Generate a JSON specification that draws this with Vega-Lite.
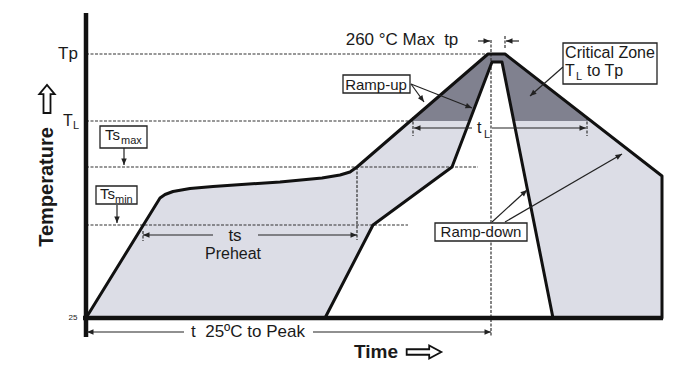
{
  "$schema": "https://vega.github.io/schema/vega-lite/v6.json",
  "width": 695,
  "height": 371,
  "autosize": "none",
  "padding": 0,
  "background": "white",
  "config": {"view": {"stroke": null}, "text": {"font": "Liberation Sans", "color": "#1a1a1a"}},
  "datasets": {
    "profile": [
      {"curve": "outer", "i": 0, "t": 0, "T": 0},
      {"curve": "outer", "i": 1, "t": 74, "T": 120},
      {"curve": "outer", "i": 2, "t": 79, "T": 123.5},
      {"curve": "outer", "i": 3, "t": 87, "T": 126.5},
      {"curve": "outer", "i": 4, "t": 104, "T": 129.5},
      {"curve": "outer", "i": 5, "t": 127, "T": 131.5},
      {"curve": "outer", "i": 6, "t": 194, "T": 136},
      {"curve": "outer", "i": 7, "t": 236, "T": 140},
      {"curve": "outer", "i": 8, "t": 254, "T": 143},
      {"curve": "outer", "i": 9, "t": 264, "T": 146},
      {"curve": "outer", "i": 10, "t": 271, "T": 151},
      {"curve": "outer", "i": 11, "t": 402, "T": 264},
      {"curve": "outer", "i": 12, "t": 419, "T": 264},
      {"curve": "outer", "i": 13, "t": 576, "T": 142},
      {"curve": "outer", "i": 14, "t": 576, "T": 0},
      {"curve": "inner", "i": 0, "t": 239, "T": 0},
      {"curve": "inner", "i": 1, "t": 287, "T": 93},
      {"curve": "inner", "i": 2, "t": 366, "T": 151},
      {"curve": "inner", "i": 3, "t": 406, "T": 256},
      {"curve": "inner", "i": 4, "t": 416, "T": 256},
      {"curve": "inner", "i": 5, "t": 467, "T": 0}
    ],
    "critical": [
      {"t": 324.3, "T": 197},
      {"t": 402, "T": 264},
      {"t": 419, "T": 264},
      {"t": 505.2, "T": 197}
    ],
    "guides": [
      {"t": 0, "T": 264, "t2": 402, "T2": 264},
      {"t": 0, "T": 197, "t2": 327, "T2": 197},
      {"t": 0, "T": 151, "t2": 392, "T2": 151},
      {"t": 0, "T": 93, "t2": 322, "T2": 93},
      {"t": 405, "T": 278, "t2": 405, "T2": -19},
      {"t": 271, "T": 151, "t2": 271, "T2": 78},
      {"t": 57, "T": 87, "t2": 57, "T2": 77},
      {"t": 419, "T": 282, "t2": 419, "T2": 270},
      {"t": 327, "T": 201, "t2": 327, "T2": 182},
      {"t": 501, "T": 201, "t2": 501, "T2": 182}
    ],
    "frame": [
      {"t": 0, "T": 305, "t2": 0, "T2": -19},
      {"t": -3, "T": 0, "t2": 577, "T2": 0}
    ],
    "arrows": [
      {"t": 57, "T": 83, "t2": 127, "T2": 83, "heading": 180},
      {"t": 271, "T": 83, "t2": 172, "T2": 83, "heading": 0},
      {"t": 328, "T": 190, "t2": 386, "T2": 190, "heading": 180},
      {"t": 500, "T": 190, "t2": 406, "T2": 190, "heading": 0},
      {"t": 1, "T": -14, "t2": 98, "T2": -14, "heading": 180},
      {"t": 405, "T": -14, "t2": 227, "T2": -14, "heading": 0},
      {"t": 404, "T": 277, "t2": 392, "T2": 277, "heading": 0},
      {"t": 420, "T": 277, "t2": 433, "T2": 277, "heading": 180},
      {"t": 38, "T": 153, "t2": 38, "T2": 170, "heading": 90},
      {"t": 31, "T": 95, "t2": 31, "T2": 113, "heading": 90},
      {"t": 338, "T": 216, "t2": 325, "T2": 234, "heading": 54},
      {"t": 386, "T": 210, "t2": 325, "T2": 234, "heading": 21.5},
      {"t": 444, "T": 222, "t2": 477, "T2": 251, "heading": 138.7},
      {"t": 441, "T": 128, "t2": 406, "T2": 96, "heading": 317.6},
      {"t": 536, "T": 164, "t2": 419, "T2": 96, "heading": 329.8}
    ],
    "boxes": [
      {"name": "Ramp-up", "t": 257, "t2": 324, "T": 243, "T2": 225},
      {"name": "Critical", "t": 477, "t2": 571, "T": 275, "T2": 234},
      {"name": "Ts max", "t": 14, "t2": 61, "T": 192, "T2": 170},
      {"name": "Ts min", "t": 10, "t2": 51, "T": 132, "T2": 114},
      {"name": "Ramp-down", "t": 349, "t2": 441, "T": 95, "T2": 77}
    ],
    "labels": [
      {"text": "260 °C Max \u00a0tp", "t": 316, "T": 278, "role": "big"},
      {"text": "ts", "t": 149, "T": 82, "role": "big"},
      {"text": "Tp", "t": -18, "T": 264, "role": "big"},
      {"text": "t \u00a025ºC to Peak", "t": 162, "T": -14, "role": "big"},
      {"text": "Preheat", "t": 147, "T": 64, "role": "medium"},
      {"text": "Critical Zone", "t": 524, "T": 265, "role": "medium"},
      {"text": "Ramp-up", "t": 290, "T": 233, "role": "box"},
      {"text": "Ramp-down", "t": 395, "T": 86, "role": "box"},
      {"text": "T", "t": -23, "T": 197, "role": "sym"},
      {"text": "L", "t": -13, "T": 192, "role": "sub"},
      {"text": "T", "t": 479, "T": 247, "role": "sym"},
      {"text": "L", "t": 490, "T": 241, "role": "sub"},
      {"text": "to Tp", "t": 501, "T": 247, "role": "sym"},
      {"text": "t", "t": 391, "T": 190, "role": "sym"},
      {"text": "L", "t": 398, "T": 183, "role": "sub"},
      {"text": "Ts", "t": 19, "T": 183, "role": "symsmall"},
      {"text": "max", "t": 35, "T": 177, "role": "sub"},
      {"text": "Ts", "t": 14, "T": 124, "role": "symsmall"},
      {"text": "min", "t": 29, "T": 118, "role": "sub"},
      {"text": "25", "t": -13, "T": 0, "role": "tiny"},
      {"text": "Time", "t": 290, "T": -34, "role": "xtitle"},
      {"text": "Temperature", "t": -39, "T": 131, "role": "ytitle"}
    ],
    "glyphs": [
      {"name": "time", "t": 338, "T": -34},
      {"name": "temperature", "t": -39, "T": 219}
    ]
  },
  "encoding": {
    "x": {"field": "t", "type": "quantitative", "scale": {"domain": [-86, 609], "nice": false, "zero": false}, "axis": null},
    "y": {"field": "T", "type": "quantitative", "scale": {"domain": [-53, 318], "nice": false, "zero": false}, "axis": null}
  },
  "layer": [
    {
      "data": {"name": "profile"},
      "transform": [{"filter": "datum.curve === 'outer' && datum.i < 14"}],
      "mark": {"type": "area", "color": "#dcdde6", "opacity": 1},
      "encoding": {"y2": {"datum": 0}}
    },
    {
      "data": {"name": "critical"},
      "mark": {"type": "area", "color": "#80818f", "opacity": 1},
      "encoding": {"y2": {"datum": 197}}
    },
    {
      "data": {"name": "profile"},
      "transform": [{"filter": "datum.curve === 'inner'"}],
      "mark": {"type": "area", "color": "white", "opacity": 1},
      "encoding": {"y2": {"datum": 0}}
    },
    {
      "data": {"name": "guides"},
      "mark": {"type": "rule", "color": "#333333", "strokeWidth": 1.2, "strokeDash": [3, 1.5]},
      "encoding": {"x2": {"field": "t2"}, "y2": {"field": "T2"}}
    },
    {
      "data": {"name": "profile"},
      "mark": {"type": "line", "color": "#111111", "strokeWidth": 3, "strokeJoin": "round", "strokeCap": "round"},
      "encoding": {"detail": {"field": "curve"}, "order": {"field": "i", "type": "quantitative"}}
    },
    {
      "data": {"name": "frame"},
      "mark": {"type": "rule", "color": "#111111", "strokeWidth": 4.5},
      "encoding": {"x2": {"field": "t2"}, "y2": {"field": "T2"}}
    },
    {
      "data": {"name": "arrows"},
      "mark": {"type": "rule", "color": "#222222", "strokeWidth": 1.2},
      "encoding": {"x2": {"field": "t2"}, "y2": {"field": "T2"}}
    },
    {
      "data": {"name": "arrows"},
      "mark": {"type": "point", "shape": "M0,0L-1,-0.42L-1,0.42Z", "filled": true, "color": "#222222", "size": 170, "opacity": 1},
      "encoding": {"angle": {"field": "heading", "type": "quantitative", "scale": null}}
    },
    {
      "data": {"name": "boxes"},
      "mark": {"type": "rect", "fill": "white", "stroke": "#222222", "strokeWidth": 1.3},
      "encoding": {"x2": {"field": "t2"}, "y2": {"field": "T2"}}
    },
    {
      "data": {"name": "labels"},
      "transform": [{"filter": "datum.role === 'big'"}],
      "mark": {"type": "text", "fontSize": 17, "align": "center", "baseline": "middle"},
      "encoding": {"text": {"field": "text"}}
    },
    {
      "data": {"name": "labels"},
      "transform": [{"filter": "datum.role === 'medium'"}],
      "mark": {"type": "text", "fontSize": 16, "align": "center", "baseline": "middle"},
      "encoding": {"text": {"field": "text"}}
    },
    {
      "data": {"name": "labels"},
      "transform": [{"filter": "datum.role === 'box'"}],
      "mark": {"type": "text", "fontSize": 15, "align": "center", "baseline": "middle"},
      "encoding": {"text": {"field": "text"}}
    },
    {
      "data": {"name": "labels"},
      "transform": [{"filter": "datum.role === 'sym'"}],
      "mark": {"type": "text", "fontSize": 16, "align": "left", "baseline": "middle"},
      "encoding": {"text": {"field": "text"}}
    },
    {
      "data": {"name": "labels"},
      "transform": [{"filter": "datum.role === 'symsmall'"}],
      "mark": {"type": "text", "fontSize": 15, "align": "left", "baseline": "middle"},
      "encoding": {"text": {"field": "text"}}
    },
    {
      "data": {"name": "labels"},
      "transform": [{"filter": "datum.role === 'sub'"}],
      "mark": {"type": "text", "fontSize": 11, "align": "left", "baseline": "middle"},
      "encoding": {"text": {"field": "text"}}
    },
    {
      "data": {"name": "labels"},
      "transform": [{"filter": "datum.role === 'tiny'"}],
      "mark": {"type": "text", "fontSize": 8, "align": "center", "baseline": "middle"},
      "encoding": {"text": {"field": "text"}}
    },
    {
      "data": {"name": "labels"},
      "transform": [{"filter": "datum.role === 'xtitle'"}],
      "mark": {"type": "text", "fontSize": 19, "fontWeight": "bold", "align": "center", "baseline": "middle"},
      "encoding": {"text": {"field": "text"}}
    },
    {
      "data": {"name": "labels"},
      "transform": [{"filter": "datum.role === 'ytitle'"}],
      "mark": {"type": "text", "fontSize": 20, "fontWeight": "bold", "align": "center", "baseline": "middle", "angle": 270},
      "encoding": {"text": {"field": "text"}}
    },
    {
      "data": {"name": "glyphs"},
      "transform": [{"filter": "datum.name === 'time'"}],
      "mark": {"type": "point", "shape": "M-1,-0.16L0.3,-0.16L0.3,-0.38L1,0L0.3,0.38L0.3,0.16L-1,0.16Z", "filled": false, "stroke": "#111111", "strokeWidth": 1.8, "size": 1200, "opacity": 1}
    },
    {
      "data": {"name": "glyphs"},
      "transform": [{"filter": "datum.name === 'temperature'"}],
      "mark": {"type": "point", "shape": "M-1,-0.25L0.35,-0.25L0.35,-0.55L1,0L0.35,0.55L0.35,0.25L-1,0.25Z", "filled": false, "stroke": "#111111", "strokeWidth": 1.8, "size": 784, "angle": 270, "opacity": 1}
    }
  ]
}
